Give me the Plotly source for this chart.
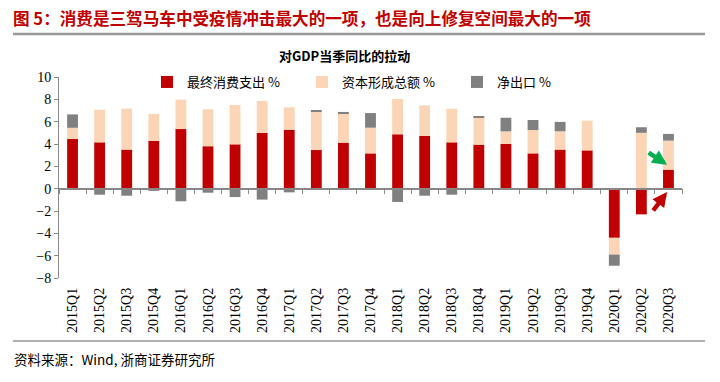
import plotly.graph_objects as go

categories = ["2015Q1","2015Q2","2015Q3","2015Q4","2016Q1","2016Q2","2016Q3","2016Q4",
              "2017Q1","2017Q2","2017Q3","2017Q4","2018Q1","2018Q2","2018Q3","2018Q4",
              "2019Q1","2019Q2","2019Q3","2019Q4","2020Q1","2020Q2","2020Q3"]
consumption = [4.45, 4.15, 3.5, 4.27, 5.34, 3.8, 3.97, 5.0,
               5.28, 3.46, 4.12, 3.16, 4.87, 4.72, 4.15, 3.94,
               4.0, 3.16, 3.5, 3.43, -4.4, -2.3, 1.7]
capital = [1.0, 2.92, 3.67, 2.42, 2.63, 3.31, 3.52, 2.86,
           2.0, 3.47, 2.63, 2.3, 3.16, 2.74, 3.01, 2.39,
           1.13, 2.09, 1.64, 2.66, -1.5, 5.0, 2.6]
net_export = [1.2, -0.54, -0.63, -0.2, -1.13, -0.36, -0.75, -0.98,
              -0.33, 0.06, 0.12, 1.31, -1.19, -0.63, -0.54, 0.12,
              1.22, 0.9, 0.84, -0.12, -1.0, 0.5, 0.6]
series_names = ["最终消费支出 %", "资本形成总额 %", "净出口 %"]
colors = ["#C00000", "#FBD5B5", "#808080"]

fig = go.Figure()
for name, vals, c in zip(series_names, [consumption, capital, net_export], colors):
    fig.add_trace(go.Bar(x=categories, y=vals, name=name, marker=dict(color=c, line=dict(width=0))))

# helper trace for the zero-line axis with boundary ticks
fig.add_trace(go.Scatter(x=categories, y=[None]*len(categories), xaxis="x2", showlegend=False,
                         hoverinfo="skip", mode="markers"))

PH = 201.0  # plot height px
PW = 623.0  # plot width px

fig.update_layout(
    width=720, height=382,
    barmode="relative", bargap=0.6,
    plot_bgcolor="white", paper_bgcolor="white",
    margin=dict(l=59, r=38, t=77, b=104, autoexpand=False),
    showlegend=True,
    legend=dict(orientation="h", x=(147 - 59) / PW, y=1 - (82 - 77) / PH, yanchor="middle",
                xanchor="left",
                font=dict(family="Noto Sans CJK SC", size=13, color="#000"),
                entrywidth=110, entrywidthmode="pixels", bgcolor="rgba(0,0,0,0)",
                itemwidth=30, traceorder="normal"),
    xaxis=dict(type="category", range=[-0.5, 22.5], showline=False, ticks="",
               tickangle=-90, tickfont=dict(family="Liberation Serif", size=14, color="#000"),
               ticklabelstandoff=6,
               showgrid=False, zeroline=False, automargin=False),
    xaxis2=dict(type="category", overlaying="x", anchor="free", position=8/18, range=[-0.5, 22.5],
                showline=True, linecolor="#888", linewidth=1.5, ticks="outside", ticklen=5,
                tickcolor="#888", tickson="boundaries", showticklabels=False, showgrid=False,
                side="bottom"),
    yaxis=dict(range=[-8, 10], dtick=2, showline=True, linecolor="#888", linewidth=1,
               ticks="outside", ticklen=4, tickcolor="#888", showgrid=False, zeroline=False,
               tickfont=dict(family="Liberation Serif", size=14, color="#000"), automargin=False),
)

# Titles and source
fig.add_annotation(text="<b>图 5：消费是三驾马车中受疫情冲击最大的一项，也是向上修复空间最大的一项</b>",
                   xref="paper", yref="paper", x=(11 - 59) / PW, y=1 + (77 - 18) / PH, xanchor="left",
                   yanchor="middle", showarrow=False,
                   font=dict(family="Noto Sans CJK SC", size=16.6, color="#C00000"))
fig.add_annotation(text="<b>对GDP当季同比的拉动</b>", xref="paper", yref="paper",
                   x=(344 - 59) / PW, y=1 + (77 - 55) / PH, xanchor="center", yanchor="middle",
                   showarrow=False, font=dict(family="Noto Sans CJK SC", size=13, color="#000"))
fig.add_annotation(text="资料来源：Wind, 浙商证券研究所", xref="paper", yref="paper",
                   x=(12 - 59) / PW, y=-(359 - 278) / PH, xanchor="left", yanchor="middle",
                   showarrow=False, font=dict(family="Noto Sans CJK SC", size=13.5, color="#000"))

# separator lines
fig.add_shape(type="line", xref="paper", yref="paper", x0=(13 - 59) / PW, x1=(705 - 59) / PW,
              y0=1 + (77 - 34) / PH, y1=1 + (77 - 34) / PH, line=dict(color="#999", width=2.5))
fig.add_shape(type="line", xref="paper", yref="paper", x0=(13 - 59) / PW, x1=(705 - 59) / PW,
              y0=-(341 - 278) / PH, y1=-(341 - 278) / PH, line=dict(color="#999", width=1.5))

# arrows
fig.add_annotation(x=21.95, y=2.15, xref="x", yref="y", ax=-20, ay=-13, showarrow=True,
                   arrowhead=2, arrowsize=0.65, arrowwidth=4.5, arrowcolor="#00B050", text="")
fig.add_annotation(x=21.95, y=-0.3, xref="x", yref="y", ax=-15, ay=20, showarrow=True,
                   arrowhead=2, arrowsize=0.65, arrowwidth=4.5, arrowcolor="#C00000", text="")

fig.write_html("out.html", config={"displayModeBar": False},
               post_script="document.body.style.margin='0';")
